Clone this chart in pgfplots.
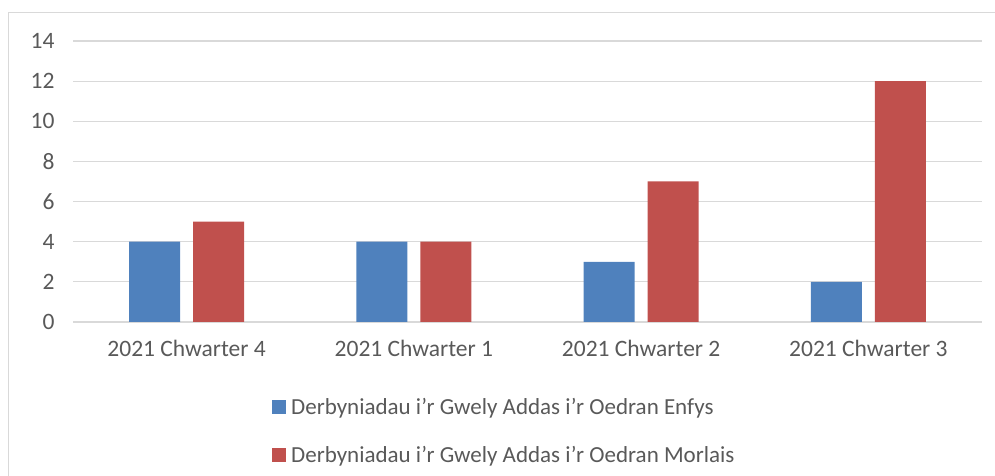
\documentclass[border=0pt]{standalone}
\usepackage{fontspec}
\setmainfont{Carlito}
\usepackage{pgfplots}
\pgfplotsset{compat=1.18}
\definecolor{cblue}{HTML}{4F81BD}
\definecolor{cred}{HTML}{C0504D}
\definecolor{cgrid}{HTML}{D9D9D9}
\definecolor{ctext}{HTML}{595959}
\begin{document}
\begin{tikzpicture}[x=1bp,y=1bp]
\useasboundingbox (0,0) rectangle (995,476);
\draw[cgrid, line width=1.2bp] (8.5,0) -- (8.5,463.5) -- (995,463.5);
\begin{axis}[
  at={(73bp,154bp)}, anchor=south west,
  scale only axis, width=909bp, height=281bp,
  xmin=-0.5, xmax=3.5, ymin=0, ymax=14,
  ytick={0,2,...,14},
  xtick=data,
  xticklabels={2021 Chwarter 4,2021 Chwarter 1,2021 Chwarter 2,2021 Chwarter 3},
  ymajorgrids, grid style={cgrid, line width=1.2bp},
  axis line style={draw=none},
  major tick length=0pt,
  ybar=13bp, bar width=51bp,
  every axis plot/.append style={draw=none},
  /pgf/number format/assume math mode=true,
  ticklabel style={font=\fontsize{23.5bp}{27bp}\selectfont, text=ctext},
  xticklabel style={yshift=-15bp},
  yticklabel style={xshift=-15bp},
  legend style={draw=none, fill=none, at={(0.2156,-0.255)}, anchor=north west,
    font=\fontsize{23bp}{27bp}\selectfont, text=ctext, row sep=27bp, column sep=3bp,
    nodes={inner sep=2bp}},
  legend cell align=left,
  legend image code/.code={\fill[#1] (0bp,-7bp) rectangle (14bp,7bp);},
]
\addplot[fill=cblue] coordinates {(0,4) (1,4) (2,3) (3,2)};
\addplot[fill=cred] coordinates {(0,5) (1,4) (2,7) (3,12)};
\legend{Derbyniadau i'r Gwely Addas i’r Oedran Enfys, Derbyniadau i'r Gwely Addas i’r Oedran Morlais}
\end{axis}
\end{tikzpicture}
\end{document}
